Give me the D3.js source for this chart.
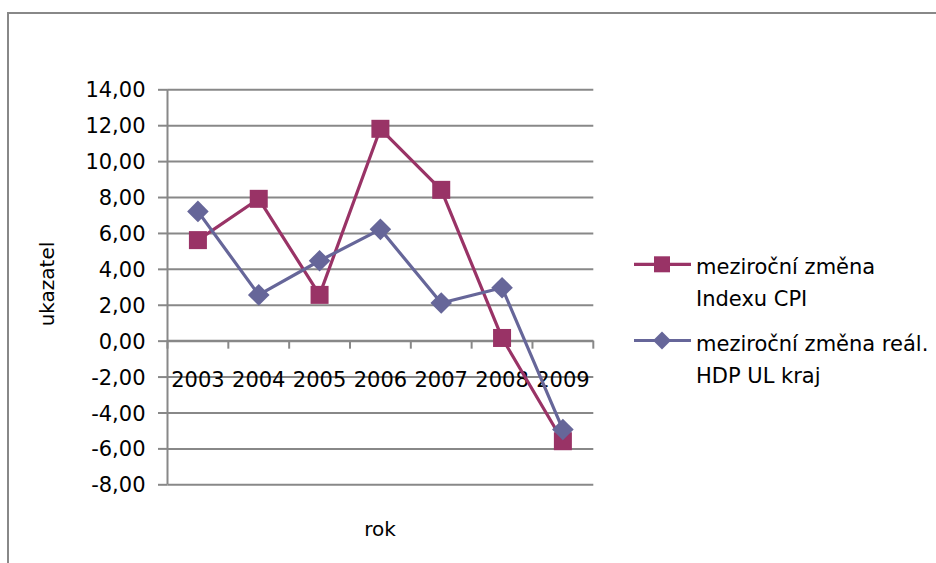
<!DOCTYPE html>
<html>
<head>
<meta charset="utf-8">
<script src="https://cdn.jsdelivr.net/npm/d3@7"></script>
<style>
  html, body { margin: 0; padding: 0; background: #fff; }
  svg { display: block; }
  text { font-family: "DejaVu Sans", sans-serif; fill: #000; }
</style>
</head>
<body>
<svg id="chart" width="936" height="563"></svg>
<script>
const years = ["2003", "2004", "2005", "2006", "2007", "2008", "2009"];
const cpiValues = [5.6, 7.9, 2.55, 11.8, 8.4, 0.15, -5.6];
const gdpValues = [7.2, 2.55, 4.45, 6.2, 2.1, 2.95, -4.95];
const yTicks = [-8, -6, -4, -2, 0, 2, 4, 6, 8, 10, 12, 14];
const seriesNames = [["meziroční změna", "Indexu CPI"], ["meziroční změna reál.", "HDP UL kraj"]];
const yTitle = "ukazatel";
const xTitle = "rok";

const svg = d3.select("#chart");
const W = 936, H = 563;
const plot = { left: 167.5, right: 593.3, top: 89.3, bottom: 484.3 };
const colors = ["#993366", "#666699"];
const gridColor = "#888888";

// Outer chart frame (extends past the window on right and bottom)
svg.append("rect")
  .attr("x", 8).attr("y", 13)
  .attr("width", 1000).attr("height", 700)
  .attr("fill", "none").attr("stroke", gridColor).attr("stroke-width", 2);

const x = d3.scaleBand().domain(years).range([plot.left, plot.right]).padding(0);
const y = d3.scaleLinear().domain([-8, 14]).range([plot.bottom, plot.top]);
const cx = d => x(d) + x.bandwidth() / 2;

// Horizontal gridlines + y ticks
const yAxis = d3.axisLeft(y).tickValues(yTicks)
  .tickSize(-(plot.right - plot.left))
  .tickFormat(d => d3.format(".2f")(d).replace(".", ",").replace("−", "-"));
const gy = svg.append("g").attr("transform", `translate(${plot.left},0)`).call(yAxis);
gy.select(".domain").remove();
gy.selectAll(".tick line").attr("stroke", gridColor).attr("stroke-width", 2);
gy.selectAll(".tick")
  .append("line")
  .attr("x1", -9.5).attr("x2", 0)
  .attr("stroke", gridColor).attr("stroke-width", 2);
gy.selectAll(".tick text")
  .attr("x", -22).attr("dy", "0.36em")
  .style("font-family", '"DejaVu Sans", sans-serif')
  .style("font-size", "21px").attr("fill", "#000");

// Vertical value axis line
svg.append("line")
  .attr("x1", plot.left).attr("x2", plot.left)
  .attr("y1", plot.top).attr("y2", plot.bottom)
  .attr("stroke", gridColor).attr("stroke-width", 2);

// Category axis at zero with downward ticks at band boundaries
const y0 = y(0);
const bounds = years.map(d => x(d)).concat([plot.right]);
svg.append("g").selectAll("line").data(bounds).join("line")
  .attr("x1", d => d).attr("x2", d => d)
  .attr("y1", y0).attr("y2", y0 + 8)
  .attr("stroke", gridColor).attr("stroke-width", 2);
svg.append("line")
  .attr("x1", plot.left).attr("x2", plot.right)
  .attr("y1", y0).attr("y2", y0)
  .attr("stroke", gridColor).attr("stroke-width", 2);

// Category labels
svg.append("g").selectAll("text").data(years).join("text")
  .attr("x", d => cx(d)).attr("y", y0 + 46)
  .attr("text-anchor", "middle")
  .style("font-size", "21px")
  .text(d => d);

// Series
const series = [cpiValues, gdpValues];
const line = d3.line().x((d, i) => cx(years[i])).y(d => y(d));

function drawMarker(g, type, px, py, size, color) {
  if (type === 0) {
    g.append("rect")
      .attr("x", px - size / 2).attr("y", py - size / 2)
      .attr("width", size).attr("height", size)
      .attr("fill", color);
  } else {
    const h = size * 0.6;
    g.append("path")
      .attr("d", `M${px},${py - h}L${px + h},${py}L${px},${py + h}L${px - h},${py}Z`)
      .attr("fill", color);
  }
}

series.forEach((vals, si) => {
  const g = svg.append("g");
  g.append("path").datum(vals)
    .attr("d", line)
    .attr("fill", "none")
    .attr("stroke", colors[si])
    .attr("stroke-width", 3.2)
    .attr("stroke-linejoin", "round");
  vals.forEach((v, i) => drawMarker(g, si, cx(years[i]), y(v), 18, colors[si]));
});

// Legend
const legendY = [264.3, 340.5];
seriesNames.forEach((lines, si) => {
  const g = svg.append("g");
  const ly = legendY[si];
  g.append("line")
    .attr("x1", 634).attr("x2", 691)
    .attr("y1", ly).attr("y2", ly)
    .attr("stroke", colors[si]).attr("stroke-width", 3.2);
  drawMarker(g, si, 662, ly, si === 0 ? 16 : 15, colors[si]);
  const t = g.append("text").attr("x", 696).attr("y", ly + 10)
    .style("font-size", "21px");
  lines.forEach((s, k) => {
    t.append("tspan").attr("x", 696).attr("dy", k === 0 ? 0 : 32).text(s);
  });
});

// Axis titles
svg.append("text")
  .attr("transform", `translate(54,284) rotate(-90)`)
  .attr("text-anchor", "middle")
  .style("font-size", "20px")
  .text(yTitle);
svg.append("text")
  .attr("x", 380).attr("y", 536)
  .attr("text-anchor", "middle")
  .style("font-size", "20px")
  .text(xTitle);
</script>
</body>
</html>
